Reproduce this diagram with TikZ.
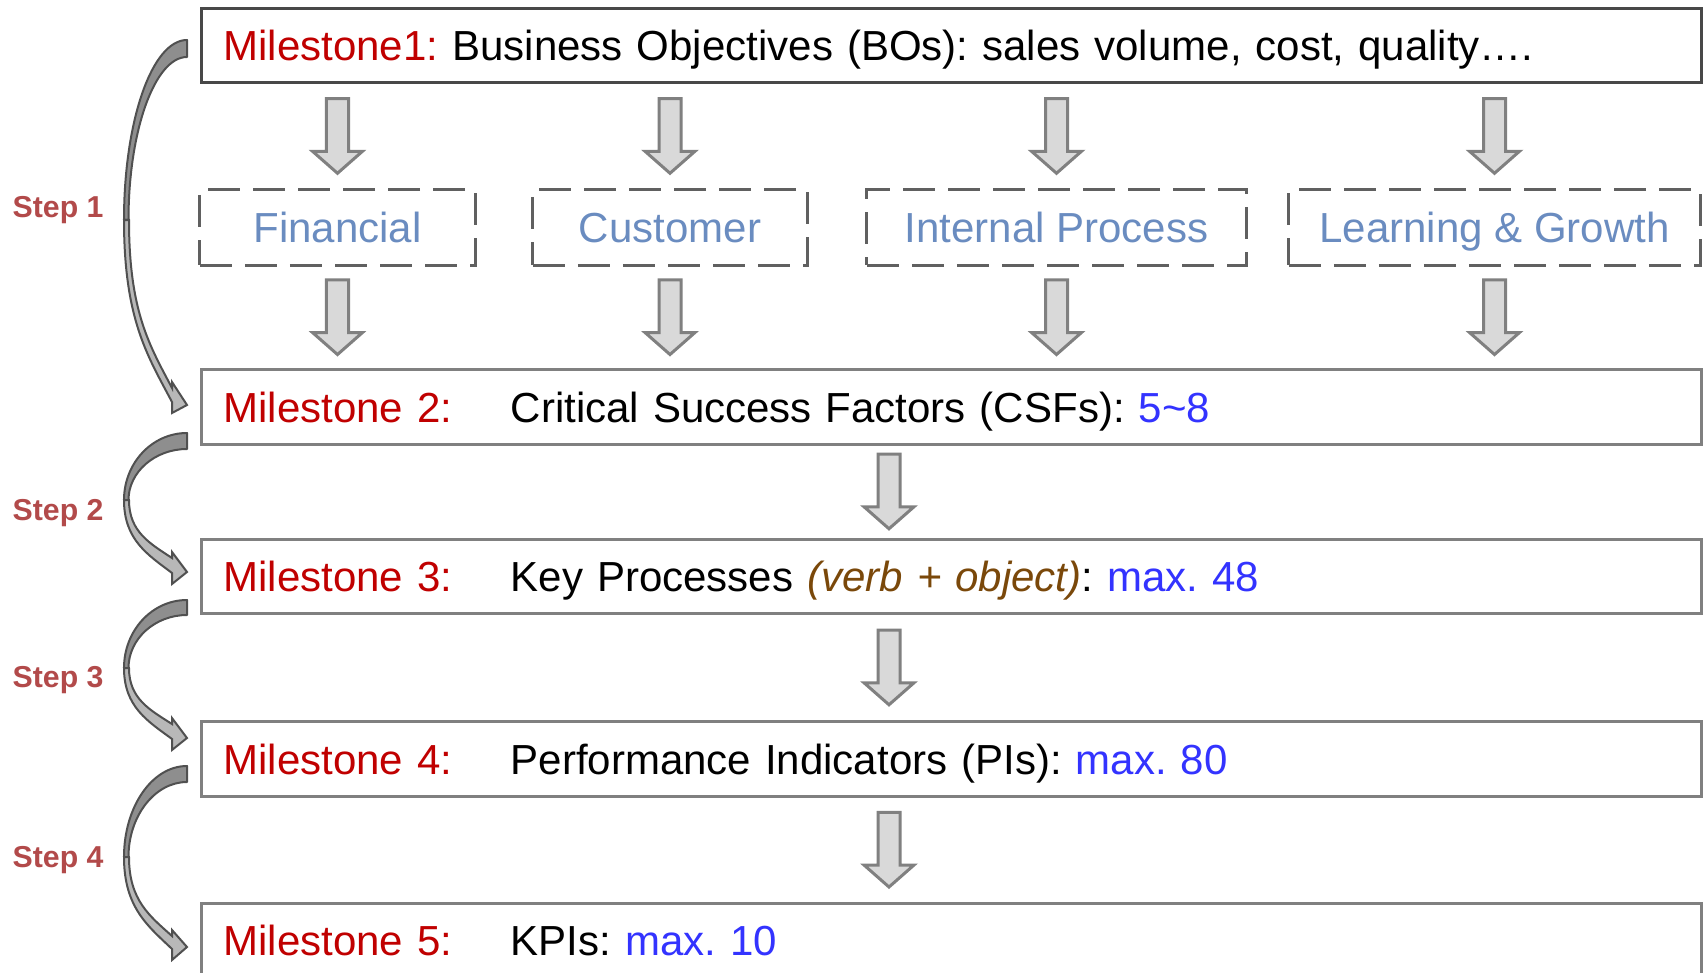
\documentclass[tikz,border=0pt]{standalone}
\usepackage{fontspec}
\setmainfont{Liberation Sans}
\usetikzlibrary{calc}
\frenchspacing

\definecolor{msred}{RGB}{192,0,0}
\definecolor{numblue}{RGB}{51,51,255}
\definecolor{verbbrown}{RGB}{122,72,10}
\definecolor{persblue}{RGB}{106,140,192}
\definecolor{steptext}{RGB}{178,74,74}
\definecolor{boxgray}{RGB}{128,128,128}
\definecolor{topgray}{RGB}{72,72,72}
\definecolor{dashgray}{RGB}{96,96,96}
\definecolor{arrowfill}{RGB}{217,217,217}
\definecolor{curveline}{RGB}{80,80,80}
\definecolor{curvedark}{RGB}{142,142,142}
\definecolor{curvelight}{RGB}{184,184,184}

% downward block arrow in column #1, centred between #2 (above) and #3 (below)
\newcommand\blockdown[3]{%
  \draw[blockarrow] let \p1=(#1), \p4=($(#2.south)!0.5!(#3.north)$) in
    (\x1-0.11cm,\y4+0.375cm) -- (\x1+0.11cm,\y4+0.375cm) -- (\x1+0.11cm,\y4-0.15cm)
    -- (\x1+0.25cm,\y4-0.15cm) -- (\x1,\y4-0.37cm) -- (\x1-0.25cm,\y4-0.15cm)
    -- (\x1-0.11cm,\y4-0.15cm) -- cycle;}

% curved step arrow: tail top, tail bottom, leftmost y, tip y, upper barb y, lower barb y
\newcommand\steparrow[6]{%
  \filldraw[stepback] (187,#1) .. controls (152,#1) and (124,{#3-0.55*(#3-#1)}) .. (124,#3)
    -- (128.5,#3) .. controls (128.5,{#3-0.55*(#3-#2)}) and (155,#2) .. (187,#2) -- cycle;
  \filldraw[stepfront] (124,#3) .. controls (124,{#3+0.55*(#6-11-#3)}) and (148,{#6-11-0.25*(#6-11-#3)}) .. (172,{#6-11})
    -- (172,#6) -- (187,#4) -- (172,#5) -- (172,{#5+6})
    .. controls (150,{#5+6-0.25*(#5+6-#3)}) and (129,{#3+0.55*(#5+6-#3)}) .. (129,#3) -- cycle;}

\begin{document}
\begin{tikzpicture}[x=0.01cm, y=-0.01cm,
  msbox/.style={draw=boxgray, line width=0.03cm, anchor=west, text width=14.55cm,
    align=left, inner xsep=0.22cm, inner ysep=0pt, minimum height=0.74cm,
    text height=0.30cm, text depth=0pt, font=\fontsize{11.95pt}{14pt}\selectfont},
  persbox/.style={draw=dashgray, line width=0.03cm, dash pattern=on 0.32cm off 0.13cm,
    minimum height=0.75cm, inner sep=0pt, text height=0.30cm, text depth=0pt,
    text=persblue, font=\fontsize{11.95pt}{14pt}\selectfont},
  blockarrow/.style={draw=boxgray, fill=arrowfill, line width=0.03cm, line join=miter},
  steplabel/.style={text=steptext, font=\fontsize{8.6pt}{10pt}\selectfont\bfseries,
    anchor=base west, inner sep=0pt},
  stepback/.style={draw=curveline, fill=curvedark, line width=0.02cm, line join=round},
  stepfront/.style={draw=curveline, fill=curvelight, line width=0.02cm, line join=miter}
]
\useasboundingbox (0,0) rectangle (1703,973);

% milestone boxes
\node[msbox, draw=topgray] (m1) at (200,45.5)
  {\textcolor{msred}{Milestone1:} Business Objectives (BOs): sales volume, cost, quality….};
\node[msbox] (m2) at (200,407)
  {\makebox[2.87cm][l]{\textcolor{msred}{Milestone 2:}}Critical Success Factors (CSFs): \textcolor{numblue}{5\textasciitilde 8}};
\node[msbox] (m3) at (200,576.5)
  {\makebox[2.87cm][l]{\textcolor{msred}{Milestone 3:}}Key Processes \textcolor{verbbrown}{\itshape (verb + object)}: \textcolor{numblue}{max. 48}};
\node[msbox] (m4) at (200,759)
  {\makebox[2.87cm][l]{\textcolor{msred}{Milestone 4:}}Performance Indicators (PIs): \textcolor{numblue}{max. 80}};
% the last box runs past the lower edge of the page
\node[msbox, minimum height=1.0cm, text depth=0.28cm] (m5) at (200,954)
  {\makebox[2.87cm][l]{\textcolor{msred}{Milestone 5:}}KPIs: \textcolor{numblue}{max. 10}};

% perspectives
\node[persbox, minimum width=2.75cm] (fin) at (337.5,227.5) {Financial};
\node[persbox, minimum width=2.74cm] (cust) at (670,227.5) {Customer};
\node[persbox, minimum width=3.79cm] (intp) at (1056.5,227.5) {Internal Process};
\node[persbox, minimum width=4.11cm] (lg) at (1494.5,227.5) {Learning \& Growth};

% block arrows
\foreach \col in {fin,cust,intp,lg}{
  \blockdown{\col}{m1}{\col}
  \blockdown{\col}{\col}{m2}
}
\coordinate (flow) at (889,0);
\blockdown{flow}{m2}{m3}
\blockdown{flow}{m3}{m4}
\blockdown{flow}{m4}{m5}

% steps
\node[steplabel] (s1) at (12,218) {Step 1};
\node[steplabel] (s2) at (12,520) {Step 2};
\node[steplabel] (s3) at (12,687) {Step 3};
\node[steplabel] (s4) at (12,867) {Step 4};

\steparrow{40}{57}{220}{405}{382}{413}
\steparrow{433}{449}{500}{572}{552}{584}
\steparrow{600}{615}{668}{738}{718}{750}
\steparrow{766}{782}{857}{947}{930}{960}
\end{tikzpicture}
\end{document}
